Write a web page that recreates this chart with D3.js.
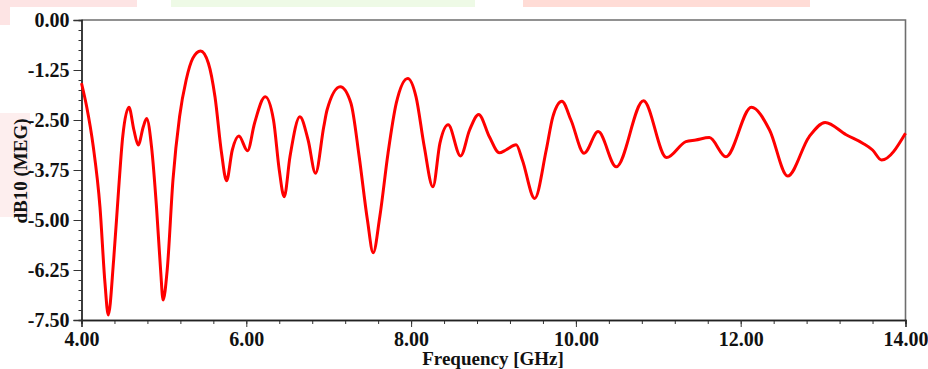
<!DOCTYPE html>
<html><head><meta charset="utf-8">
<script src="https://cdn.jsdelivr.net/npm/d3@7"></script>
<style>html,body{margin:0;padding:0;background:#fff;}svg{display:block;}</style>
</head><body>
<svg id="chart" width="928" height="369"></svg>
<script>
// Data
const freqGHz = [4.0,4.063,4.143,4.224,4.285,4.325,4.39,4.45,4.5,4.576,4.636,4.688,4.75,4.79,4.85,4.91,4.96,4.99,5.04,5.11,5.19,5.27,5.35,5.445,5.54,5.62,5.7,5.76,5.83,5.91,6.015,6.1,6.23,6.33,6.4,6.46,6.53,6.65,6.75,6.84,6.94,6.98,7.14,7.27,7.37,7.47,7.54,7.62,7.72,7.82,7.96,8.06,8.16,8.265,8.35,8.45,8.6,8.71,8.82,8.95,9.07,9.15,9.275,9.35,9.5,9.64,9.72,9.83,9.94,10.1,10.27,10.49,10.82,11.1,11.335,11.455,11.62,11.82,12.13,12.35,12.57,12.83,13.025,13.28,13.48,13.6,13.71,14.0];
const dB10MEG = [-1.58,-2.17,-3.17,-4.67,-6.58,-7.375,-6.0,-4.25,-2.92,-2.18,-2.75,-3.125,-2.67,-2.46,-3.17,-4.67,-6.25,-7.0,-6.25,-4.0,-2.42,-1.5,-0.96,-0.775,-1.08,-1.92,-3.33,-4.02,-3.25,-2.9,-3.27,-2.58,-1.92,-2.5,-3.75,-4.42,-3.42,-2.42,-3.0,-3.83,-2.67,-2.25,-1.67,-2.08,-3.42,-5.0,-5.82,-4.92,-3.33,-2.08,-1.46,-1.92,-3.17,-4.17,-3.08,-2.62,-3.4,-2.75,-2.36,-2.92,-3.32,-3.25,-3.12,-3.5,-4.46,-3.25,-2.42,-2.03,-2.5,-3.33,-2.79,-3.67,-2.02,-3.44,-3.04,-3.0,-2.94,-3.42,-2.18,-2.75,-3.9,-2.92,-2.56,-2.87,-3.08,-3.25,-3.5,-2.83];
const xTickLabels = ["4.00","6.00","8.00","10.00","12.00","14.00"];
const yTickLabels = ["0.00","-1.25","-2.50","-3.75","-5.00","-6.25","-7.50"];
const xTitle = "Frequency [GHz]";
const yTitle = "dB10 (MEG)";

const svg = d3.select("#chart");
const L = 81.5, R = 905.5, T = 20, B = 320;

// background page fragments (highlight remnants)
const bg = svg.append("g");
bg.append("rect").attr("x",0).attr("y",0).attr("width",137).attr("height",7).attr("fill","#fde4e4");
bg.append("rect").attr("x",0).attr("y",0).attr("width",10).attr("height",25).attr("fill","#fde4e4");
bg.append("rect").attr("x",171).attr("y",0).attr("width",304).attr("height",7).attr("fill","#eefae6");
bg.append("rect").attr("x",523).attr("y",0).attr("width",287).attr("height",7).attr("fill","#ffdcd6");
bg.append("rect").attr("x",0).attr("y",113).attr("width",30).attr("height",104).attr("fill","#fdeeee");

const x = d3.scaleLinear().domain([4,14]).range([L,R]);
const y = d3.scaleLinear().domain([-7.5,0]).range([B,T]);

// frame (top and right)
svg.append("path").attr("d",`M${L},${T}H${R}V${B}`).attr("fill","none").attr("stroke","#6e6e6e").attr("stroke-width",1.6);

const font = "'Liberation Serif','Times New Roman',serif";

// Y axis
const yMajor = yTickLabels.map(Number);
const yMinor = d3.range(0,31).map(i=>-i*0.25);
const yAx = svg.append("g").attr("transform",`translate(${L},0)`);
yAx.call(d3.axisLeft(y).tickValues(yMinor).tickSize(3).tickFormat(""));
yAx.append("g").call(d3.axisLeft(y).tickValues(yMajor).tickSize(8).tickPadding(4).tickFormat((d,i)=>yTickLabels[i]));
yAx.selectAll("path.domain").attr("stroke","#222").attr("stroke-width",1.3);
yAx.selectAll("line").attr("stroke","#333");
yAx.selectAll("text").attr("font-family",font).attr("font-weight","bold").attr("font-size",20).attr("fill","#111");

// X axis
const xMajor = xTickLabels.map(Number);
const xMinor = d3.range(0,26).map(i=>4+i*0.4);
const xAx = svg.append("g").attr("transform",`translate(0,${B})`);
xAx.call(d3.axisBottom(x).tickValues(xMinor).tickSize(4).tickFormat(""));
xAx.append("g").call(d3.axisBottom(x).tickValues(xMajor).tickSize(7).tickPadding(5).tickFormat((d,i)=>xTickLabels[i]));
xAx.selectAll("path.domain").attr("stroke","#222").attr("stroke-width",1.3);
xAx.selectAll("line").attr("stroke","#333");
xAx.selectAll("text").attr("font-family",font).attr("font-weight","bold").attr("font-size",20).attr("fill","#111");

// Titles
svg.append("text").attr("x",493).attr("y",365).attr("text-anchor","middle")
  .attr("font-family",font).attr("font-weight","bold").attr("font-size",19).attr("fill","#111").text(xTitle);
svg.append("text").attr("transform","translate(27,171) rotate(-90)").attr("text-anchor","middle")
  .attr("font-family",font).attr("font-weight","bold").attr("font-size",19).attr("fill","#111").text(yTitle);

// Curve
const pts = freqGHz.map((f,i)=>[f,dB10MEG[i]]);
const line = d3.line().x(d=>x(d[0])).y(d=>y(d[1])).curve(d3.curveMonotoneX);
svg.append("path").datum(pts).attr("d",line).attr("fill","none").attr("stroke","#ff0000").attr("stroke-width",3).attr("stroke-linejoin","round");
</script>
</body></html>
